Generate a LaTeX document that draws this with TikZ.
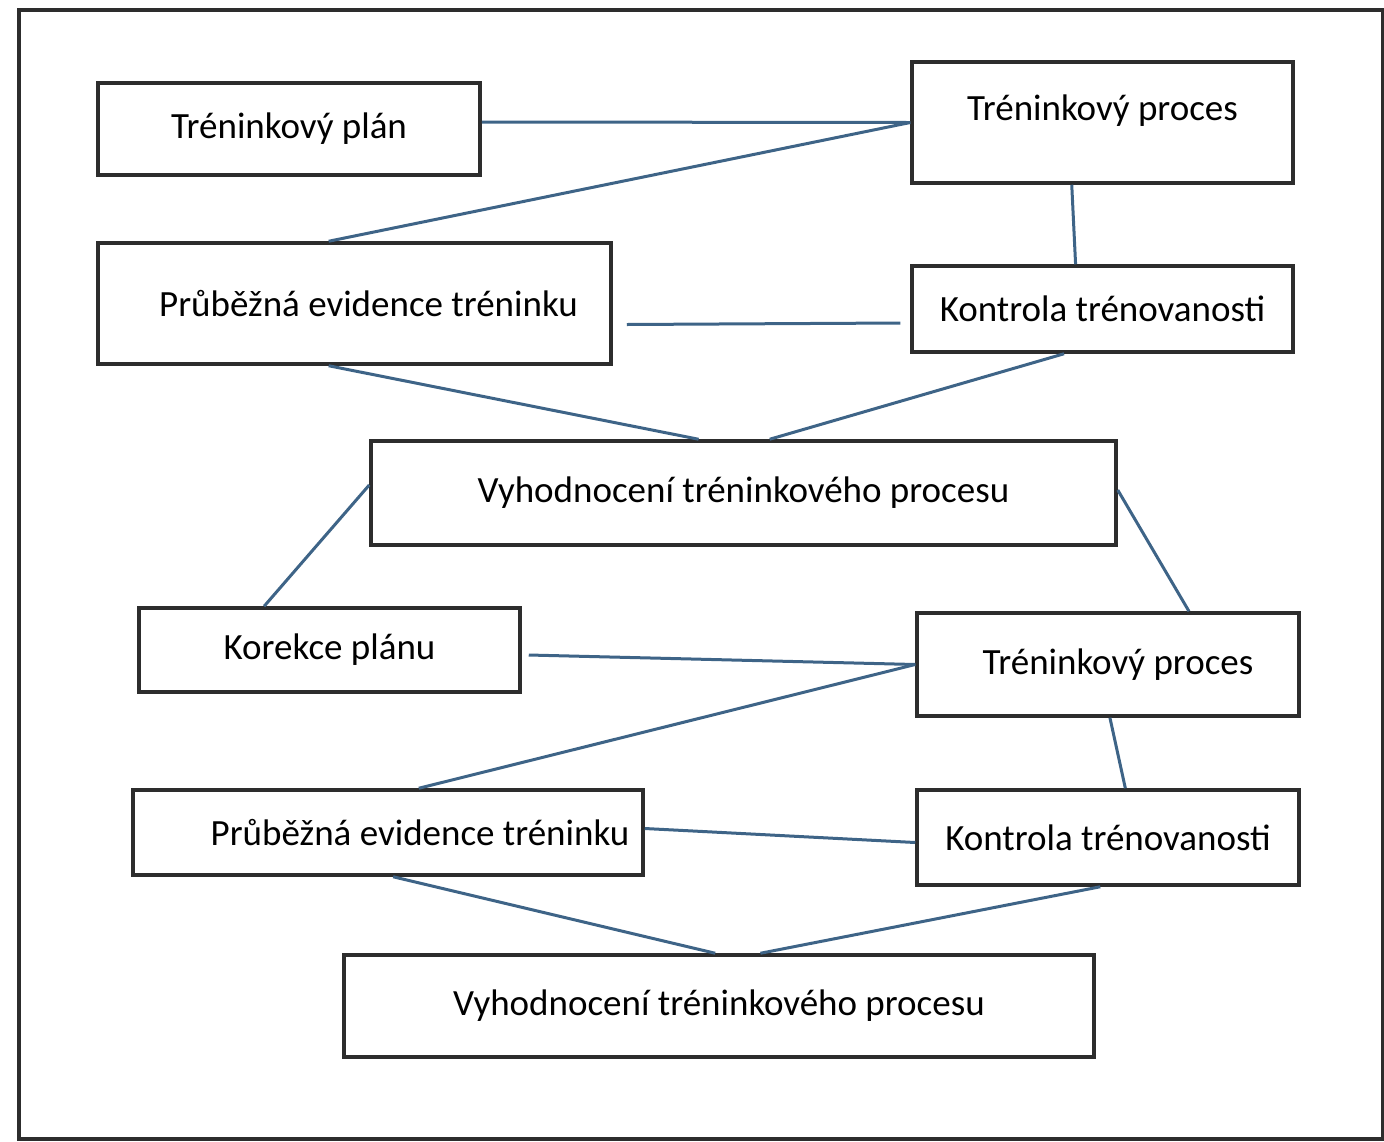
\documentclass[tikz,border=0pt]{standalone}
\usepackage{fontspec}
\setmainfont{Carlito}
\usepackage{xcolor}
\usepackage{tikz}
\usetikzlibrary{calc}
\definecolor{linkblue}{RGB}{62,100,135}
\definecolor{boxgray}{RGB}{45,45,45}
\tikzset{
  % základní box
  box/.style={
    draw=boxgray,
    line width=3.5pt,
    inner sep=0pt,
    font=\fontsize{37}{42}\selectfont
  },
  % spojnice
  link/.style={linkblue, line width=3pt},
}

\begin{document}
\begin{tikzpicture}[x=1pt, y=-1pt]
        \useasboundingbox (0,0) rectangle (1384,1141);
        \draw[boxgray, line width=3.5pt] (19,10) rectangle (1383,1139);

        % první cyklus
        \node[box, minimum width=382pt, minimum height=92pt] (plan) at (289,129) {Tréninkový plán};
        \node[box, minimum width=381pt, minimum height=121pt, text depth=29pt] (proces1) at (1102.5,122.5) {Tréninkový proces};
        \node[box, minimum width=513pt, minimum height=121pt] (evid1) at (354.5,303.5) {\hspace*{28pt}Průběžná evidence tréninku};
        \node[box, minimum width=381pt, minimum height=86pt] (kontrola1) at (1102.5,309) {Kontrola trénovanosti};
        \node[box, minimum width=745pt, minimum height=104pt] (vyhod1) at (743.5,493) {Vyhodnocení tréninkového procesu};

        % druhý cyklus
        \node[box, minimum width=381pt, minimum height=84pt] (korekce) at (329.5,650) {Korekce plánu};
        \node[box, minimum width=382pt, minimum height=103pt] (proces2) at (1108,664.5) {\hspace*{20pt}Tréninkový proces};
        \node[box, minimum width=510pt, minimum height=85pt] (evid2) at (388,832.5) {\hspace*{64pt}Průběžná evidence tréninku};
        \node[box, minimum width=382pt, minimum height=95pt] (kontrola2) at (1108,837.5) {Kontrola trénovanosti};
        \node[box, minimum width=750pt, minimum height=102pt] (vyhod2) at (719,1006) {Vyhodnocení tréninkového procesu};

        \draw[link] ($(plan.east)+(0,-7)$) -- (proces1.west);
        \draw[link] ($(evid1.north west)!0.45!(evid1.north east)$) -- (proces1.west);
        \draw[link] ($(proces1.south west)!0.42!(proces1.south east)$) -- ($(kontrola1.north west)!0.43!(kontrola1.north east)$);
        \draw[link] ($(evid1.east)+(14,21)$) -- ($(kontrola1.west)+(-10,14)$);
        \draw[link] ($(evid1.south west)!0.45!(evid1.south east)$) -- ($(vyhod1.north west)!0.44!(vyhod1.north east)$);
        \draw[link] ($(kontrola1.south west)!0.40!(kontrola1.south east)$) -- ($(vyhod1.north west)!0.535!(vyhod1.north east)$);

        \draw[link] ($(vyhod1.west)+(0,-8)$) -- ($(korekce.north west)!0.33!(korekce.north east)$);
        \draw[link] ($(vyhod1.east)+(0,-3)$) -- ($(proces2.north west)!0.71!(proces2.north east)$);
        \draw[link] ($(korekce.east)+(7,5)$) -- (proces2.west);
        \draw[link] ($(evid2.north west)!0.56!(evid2.north east)$) -- (proces2.west);
        \draw[link] ($(proces2.south west)!0.505!(proces2.south east)$) -- ($(kontrola2.north west)!0.545!(kontrola2.north east)$);
        \draw[link] ($(evid2.east)+(0,-4)$) -- ($(kontrola2.west)+(0,5)$);
        \draw[link] ($(evid2.south west)!0.51!(evid2.south east)$) -- ($(vyhod2.north west)!0.495!(vyhod2.north east)$);
        \draw[link] ($(kontrola2.south west)!0.48!(kontrola2.south east)$) -- ($(vyhod2.north west)!0.555!(vyhod2.north east)$);
    \end{tikzpicture}
\end{document}
